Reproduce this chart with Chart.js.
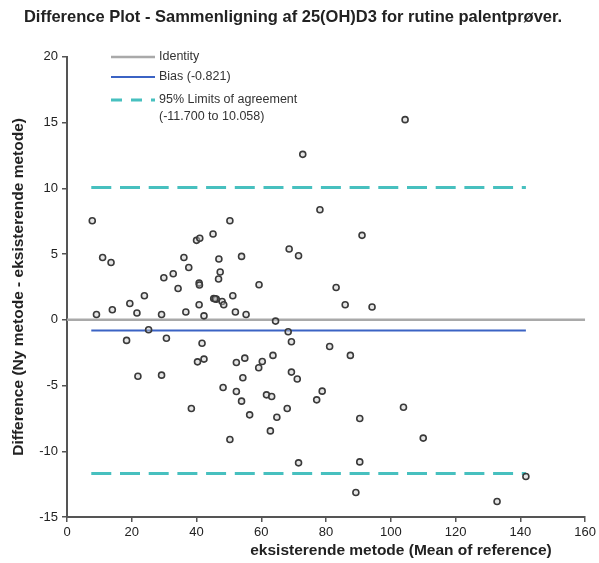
<!DOCTYPE html>
<html>
<head>
<meta charset="utf-8">
<script src="https://cdn.jsdelivr.net/npm/chart.js@4/dist/chart.umd.min.js"></script>
<style>
  html, body { margin: 0; padding: 0; background: #fff; }
  #wrap { width: 599px; height: 563px; }
</style>
</head>
<body>
<div id="wrap"><canvas id="diffChart" width="599" height="563"></canvas></div>
<script>
// Mean of reference (x) and difference (y)
const meanRef = [7.8, 11.0, 13.6, 9.1, 14.0, 19.4, 23.9, 21.6, 29.2, 29.9, 32.8, 34.3, 36.1, 37.6, 36.7, 40.0, 41.0, 40.8, 40.9, 40.8,
  42.3, 45.1, 46.9, 47.3, 46.8, 45.3, 46.1, 45.7, 47.9, 48.4, 50.3, 51.2, 52.0, 53.9, 55.3, 59.3, 72.8, 78.1, 91.1, 68.6,
  71.5, 83.1, 85.9, 94.2, 104.4, 25.2, 18.4, 30.7, 41.7, 64.4, 68.3, 69.3, 81.1, 40.3, 42.3, 21.9, 29.2, 48.2, 52.3, 53.9,
  38.4, 56.4, 50.3, 52.3, 54.9, 54.3, 59.2, 87.5, 63.6, 60.3, 69.3, 71.1, 61.6, 63.2, 78.8, 77.1, 68.0, 64.8, 62.8, 90.4,
  71.5, 90.4, 89.2, 103.9, 110.0, 141.7, 132.8];
const difference = [7.53, 4.74, 4.36, 0.40, 0.76, 1.24, 1.83, 0.51, 0.40, 3.2, 3.5, 2.38, 4.74, 3.98, 0.59, 6.04, 6.2, 2.79, 2.65, 1.14,
  0.30, 6.52, 4.62, 3.63, 3.1, 1.62, 1.57, 1.6, 1.39, 1.14, 7.53, 1.83, 0.59, 4.82, 0.40, 2.66, 12.58, 8.37, 6.42, 5.38,
  4.87, 2.46, 1.14, 0.97, 15.22, -0.76, -1.57, -1.40, -1.78, -0.10, -0.91, -1.67, -2.03, -3.2, -2.99, -4.29, -4.21, -5.15, -5.45, -6.19,
  -6.75, -7.23, -9.11, -3.25, -2.92, -4.41, -3.65, -2.71, -2.71, -3.17, -3.98, -4.51, -5.71, -5.83, -5.43, -6.09, -6.75, -7.41, -8.45, -7.51,
  -10.88, -10.81, -13.14, -6.65, -9.0, -11.92, -13.82];

const bias = -0.821;
const loaLower = -11.700;
const loaUpper = 10.058;
const lineRange = [7.5, 141.7];   // x span of bias / limit lines
const identityRange = [0, 160];

const xTicks = [0, 20, 40, 60, 80, 100, 120, 140, 160];
const yTicks = [-15, -10, -5, 0, 5, 10, 15, 20];

const legendLabels = [['Identity'], ['Bias (-0.821)'], ['95% Limits of agreement', '(-11.700 to 10.058)']];
const xTitle = 'eksisterende metode (Mean of reference)';

const points = meanRef.map((x, i) => ({ x: x, y: difference[i] }));
const hLine = (range, y) => range.map(x => ({ x: x, y: y }));

const tickFont = { family: 'Liberation Sans', size: 13 };
const axisColor = '#555';

// legend inside the plot area (top left) and the off-centre x axis title
const extras = {
  id: 'extras',
  afterDraw(chart) {
    const ctx = chart.ctx;
    const x0 = 111, xLine = 44, x1 = 159;
    const rows = [57, 77, 100];
    const sets = [chart.data.datasets[1], chart.data.datasets[2], chart.data.datasets[3]];
    ctx.save();
    ctx.font = '12.5px "Liberation Sans"';
    ctx.fillStyle = '#333';
    ctx.textBaseline = 'middle';
    sets.forEach((ds, i) => {
      const y = rows[i];
      ctx.strokeStyle = ds.borderColor;
      ctx.lineWidth = ds.borderWidth;
      ctx.setLineDash(ds.borderDash ? [11, 9] : []);
      ctx.beginPath();
      ctx.moveTo(x0, y);
      ctx.lineTo(x0 + xLine, y);
      ctx.stroke();
      legendLabels[i].forEach((t, k) => ctx.fillText(t, x1, y + k * 17));
    });

    ctx.font = 'bold 15.5px "Liberation Sans"';
    ctx.fillStyle = '#222';
    ctx.textAlign = 'center';
    ctx.fillText(xTitle, 401, 551);
    ctx.restore();
  }
};

new Chart(document.getElementById('diffChart'), {
  type: 'scatter',
  data: {
    datasets: [
      {
        label: 'Data',
        data: points,
        pointRadius: 3,
        pointBorderWidth: 1.6,
        pointBorderColor: '#3a3a3a',
        pointBackgroundColor: 'rgba(200,200,200,0.45)'
      },
      {
        label: 'Identity',
        type: 'line',
        data: hLine(identityRange, 0),
        borderColor: '#a9a9a9',
        borderWidth: 2.5,
        pointRadius: 0
      },
      {
        label: 'Bias',
        type: 'line',
        data: hLine(lineRange, bias),
        borderColor: '#3b63c4',
        borderWidth: 2,
        pointRadius: 0
      },
      {
        label: 'LoA upper',
        type: 'line',
        data: hLine(lineRange, loaUpper),
        borderColor: '#47c0bf',
        borderWidth: 3,
        borderDash: [20, 8.7],
        pointRadius: 0
      },
      {
        label: 'LoA lower',
        type: 'line',
        data: hLine(lineRange, loaLower),
        borderColor: '#47c0bf',
        borderWidth: 3,
        borderDash: [20, 8.7],
        pointRadius: 0
      }
    ]
  },
  options: {
    responsive: false,
    animation: false,
    layout: { padding: { left: 0, right: 13, top: 0, bottom: 0 } },
    plugins: {
      legend: { display: false },
      tooltip: { enabled: false },
      title: {
        display: true,
        text: 'Difference Plot - Sammenligning af 25(OH)D3 for rutine palentprøver.',
        font: { family: 'Liberation Sans', size: 16.5, weight: 'bold' },
        color: '#222',
        padding: { top: 8, bottom: 29 }
      }
    },
    scales: {
      x: {
        type: 'linear',
        min: 0,
        max: 160,
        afterBuildTicks: s => { s.ticks = xTicks.map(v => ({ value: v })); },
        afterFit: s => { s.height = 46; },
        ticks: { font: tickFont, color: '#222', padding: 3 },
        grid: { drawOnChartArea: false, drawTicks: true, tickLength: 5, color: axisColor, lineWidth: 1.5 },
        border: { display: true, color: axisColor, width: 2 }
      },
      y: {
        type: 'linear',
        min: -15,
        max: 20,
        afterBuildTicks: s => { s.ticks = yTicks.map(v => ({ value: v })); },
        afterFit: s => { s.width = 67; },
        ticks: { font: tickFont, color: '#222', padding: 4 },
        grid: { drawOnChartArea: false, drawTicks: true, tickLength: 5, color: axisColor, lineWidth: 1.5 },
        border: { display: true, color: axisColor, width: 2 },
        title: {
          display: true,
          text: 'Difference (Ny metode - eksisterende metode)',
          font: { family: 'Liberation Sans', size: 15.5, weight: 'bold' },
          color: '#222',
          padding: { top: 9, bottom: 0 }
        }
      }
    }
  },
  plugins: [extras]
});
</script>
</body>
</html>
